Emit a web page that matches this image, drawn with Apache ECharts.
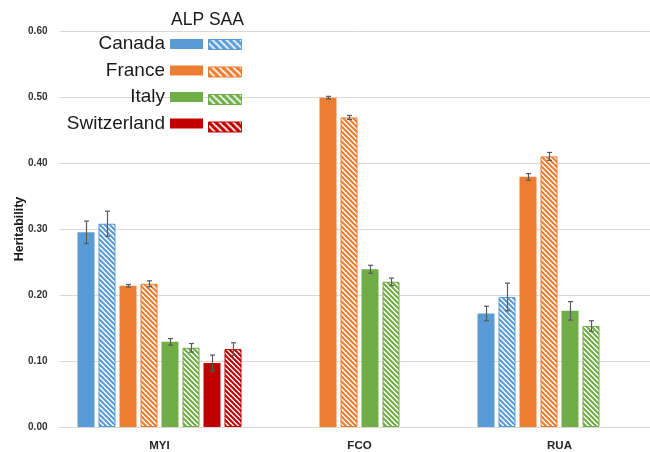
<!DOCTYPE html>
<html>
<head>
<meta charset="utf-8">
<script src="https://cdn.jsdelivr.net/npm/echarts@6/dist/echarts.min.js"></script>
<style>html,body{margin:0;padding:0;background:#fff}#c{width:650px;height:452px}</style>
</head>
<body>
<div id="c"></div>
<script>
// ---- data ----
const categories = ['MYI', 'FCO', 'RUA'];
const countries = ['Canada', 'France', 'Italy', 'Switzerland'];
const canadaALP = [0.295, null, 0.172];
const canadaALPErr = [0.017, null, 0.011];
const canadaSAA = [0.308, null, 0.197];
const canadaSAAErr = [0.019, null, 0.021];
const franceALP = [0.214, 0.499, 0.379];
const franceALPErr = [0.002, 0.002, 0.005];
const franceSAA = [0.217, 0.469, 0.410];
const franceSAAErr = [0.0045, 0.003, 0.006];
const italyALP = [0.129, 0.239, 0.176];
const italyALPErr = [0.005, 0.006, 0.014];
const italySAA = [0.120, 0.220, 0.153];
const italySAAErr = [0.0065, 0.0056, 0.008];
const switzALP = [0.097, null, null];
const switzALPErr = [0.012, null, null];
const switzSAA = [0.118, null, null];
const switzSAAErr = [0.0096, null, null];
const yTicks = [0, 0.1, 0.2, 0.3, 0.4, 0.5, 0.6];

// ---- styling ----
const colors = ['#5B9BD5', '#ED7D31', '#70AD47', '#C00000'];
const BAR_W = 17, BAR_GAP = 4;

function hatch(color, n, lw) {
  const cv = document.createElement('canvas');
  cv.width = n; cv.height = n;
  const ctx = cv.getContext('2d');
  ctx.fillStyle = '#ffffff';
  ctx.fillRect(0, 0, n, n);
  ctx.strokeStyle = color;
  ctx.lineWidth = lw;
  for (let k = -1; k <= 1; k++) {
    ctx.beginPath();
    ctx.moveTo(k * n - 1, -1);
    ctx.lineTo(k * n + n + 1, n + 1);
    ctx.stroke();
  }
  return { image: cv, repeat: 'repeat' };
}

const seriesDefs = [
  { country: 0, type: 'ALP', vals: canadaALP, errs: canadaALPErr },
  { country: 0, type: 'SAA', vals: canadaSAA, errs: canadaSAAErr },
  { country: 1, type: 'ALP', vals: franceALP, errs: franceALPErr },
  { country: 1, type: 'SAA', vals: franceSAA, errs: franceSAAErr },
  { country: 2, type: 'ALP', vals: italyALP, errs: italyALPErr },
  { country: 2, type: 'SAA', vals: italySAA, errs: italySAAErr },
  { country: 3, type: 'ALP', vals: switzALP, errs: switzALPErr },
  { country: 3, type: 'SAA', vals: switzSAA, errs: switzSAAErr }
];

const series = [];
const alpLegend = [], saaLegend = [];
seriesDefs.forEach((d, i) => {
  const col = colors[d.country];
  const name = countries[d.country] + ' ' + d.type;
  const itemStyle = d.type === 'ALP'
    ? { color: col }
    : { color: hatch(col, 5, 2.1), borderColor: col, borderWidth: 1 };
  series.push({
    name: name, type: 'bar', data: d.vals,
    barWidth: BAR_W, barGap: (BAR_GAP / BAR_W * 100) + '%',
    itemStyle: itemStyle, silent: true
  });
  const li = { name: name, itemStyle: d.type === 'ALP' ? { color: col }
    : { color: hatch(col, 7, 3.2), borderColor: col, borderWidth: 1 } };
  if (d.type === 'ALP') alpLegend.push(li); else saaLegend.push(li);
});

// error bar data: [categoryIndex, value, err, slot]
const errData = [];
seriesDefs.forEach((d, slot) => {
  d.vals.forEach((v, ci) => {
    if (v != null && d.errs[ci] != null) errData.push([ci, v, d.errs[ci], slot]);
  });
});
series.push({
  type: 'custom', name: 'err', silent: true, z: 5,
  data: errData,
  encode: { x: 0, y: 1 },
  renderItem: function (params, api) {
    const ci = api.value(0), v = api.value(1), e = api.value(2), slot = api.value(3);
    const off = (slot - (seriesDefs.length - 1) / 2) * (BAR_W + BAR_GAP);
    const top = api.coord([ci, v + e]);
    const bot = api.coord([ci, v - e]);
    const x = Math.round(top[0] + off) + 0.5;
    const cap = 2.5;
    const st = { stroke: '#5a5a5a', lineWidth: 1.2, fill: null };
    return {
      type: 'group',
      children: [
        { type: 'line', shape: { x1: x, y1: top[1], x2: x, y2: bot[1] }, style: st },
        { type: 'line', shape: { x1: x - cap, y1: top[1], x2: x + cap, y2: top[1] }, style: st },
        { type: 'line', shape: { x1: x - cap, y1: bot[1], x2: x + cap, y2: bot[1] }, style: st }
      ]
    };
  }
});

const chart = echarts.init(document.getElementById('c'), null, { renderer: 'canvas' });
chart.setOption({
  backgroundColor: '#ffffff',
  animation: false,
  textStyle: { fontFamily: 'Liberation Sans, Arial, sans-serif' },
  title: {
    text: 'ALP SAA', left: 171, top: 11, padding: 0,
    textStyle: { fontSize: 17.5, fontWeight: 'normal', color: '#1a1a1a', fontFamily: 'Liberation Sans, Arial, sans-serif' }
  },
  legend: [
    {
      data: alpLegend, orient: 'vertical', align: 'right',
      right: 447, top: 34, padding: 0,
      itemWidth: 33, itemHeight: 10, itemGap: 6.5, icon: 'rect',
      selectedMode: false,
      textStyle: { fontSize: 19, lineHeight: 20, color: '#1a1a1a', fontFamily: 'Liberation Sans, Arial, sans-serif' },
      formatter: function (n) { return n.replace(/ (ALP|SAA)$/, ''); }
    },
    {
      data: saaLegend, orient: 'vertical', align: 'left',
      left: 208, top: 39, padding: 0,
      itemWidth: 33, itemHeight: 10, itemGap: 16.5, icon: 'rect',
      selectedMode: false,
      textStyle: { fontSize: 1, lineHeight: 1 },
      formatter: function () { return ''; }
    }
  ],
  grid: { left: 59.5, top: 31, width: 600, height: 396, containLabel: false, outerBoundsMode: 'none' },
  xAxis: {
    type: 'category', data: categories,
    axisLine: { lineStyle: { color: '#D9D9D9', width: 1 } },
    axisTick: { show: false },
    axisLabel: { fontSize: 11.5, fontWeight: 'bold', color: '#262626', margin: 13 }
  },
  yAxis: {
    type: 'value', min: yTicks[0], max: yTicks[yTicks.length - 1], interval: 0.1,
    name: 'Heritability', nameLocation: 'middle', nameGap: 33, nameRotate: 90,
    nameMoveOverlap: false,
    nameTextStyle: { fontSize: 12.5, fontWeight: 'bold', color: '#1a1a1a' },
    axisLine: { show: false }, axisTick: { show: false },
    axisLabel: { fontSize: 10, fontWeight: 'bold', color: '#333333', margin: 12,
      formatter: function (v) { return v.toFixed(2); } },
    splitLine: { lineStyle: { color: '#D9D9D9', width: 1 } }
  },
  series: series
});
</script>
</body>
</html>
